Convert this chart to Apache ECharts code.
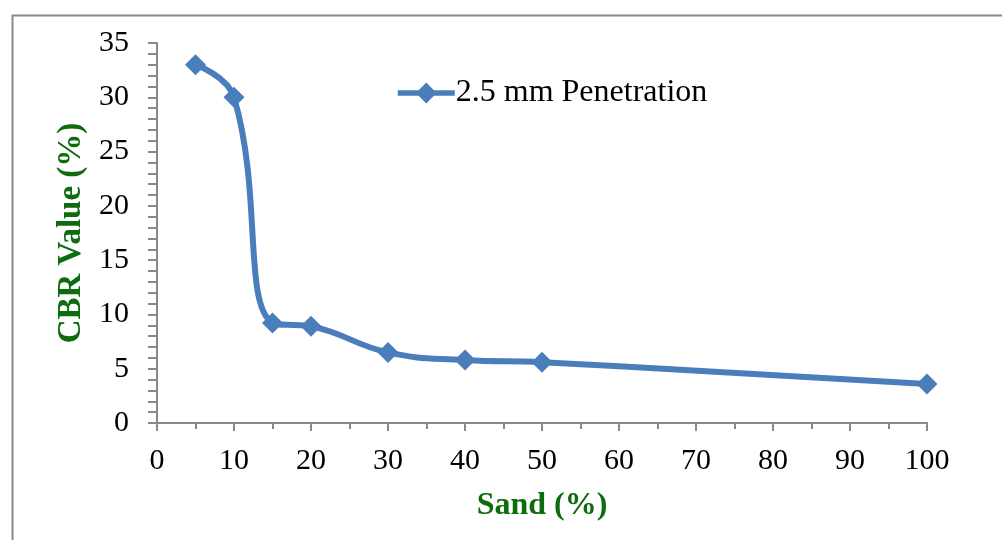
<!DOCTYPE html>
<html>
<head>
<meta charset="utf-8">
<script src="https://cdn.jsdelivr.net/npm/echarts@6/dist/echarts.min.js"></script>
<style>
  html, body { margin: 0; padding: 0; background: #fff; }
  #chart { width: 1002px; height: 540px; }
</style>
</head>
<body>
<div id="chart"></div>
<script>
// 数据：砂含量 (%) 与 CBR 值 (%)
const sandPercent = [5, 10, 15, 20, 30, 40, 50, 100]
const cbrValues = [33, 30, 9.2, 8.9, 6.5, 5.8, 5.6, 3.6]
const seriesName = '2.5 mm Penetration'

const axisGray = '#898989'
const titleGreen = '#0e6b0e'
const lineBlue = '#4a7ebb'
const serif = '"Liberation Serif", "Times New Roman", serif'

const chart = echarts.init(document.getElementById('chart'))

const option = {
  animation: false,
  graphic: [
    {
      type: 'rect',
      left: 10,
      top: 13,
      shape: { width: 1010, height: 560 },
      style: { fill: 'none', stroke: '#8a8a8a', lineWidth: 2 },
      silent: true
    }
  ],
  legend: {
    data: [seriesName],
    left: 390,
    top: 72,
    itemWidth: 57,
    itemHeight: 26,
    itemGap: 0,
    lineStyle: { width: 5.5 },
    textStyle: {
      fontFamily: serif,
      fontSize: 32,
      color: '#000',
      padding: [0, 0, 0, -4]
    }
  },
  grid: {
    left: 157,
    right: 75,
    top: 43,
    bottom: 117
  },
  xAxis: {
    type: 'value',
    min: 0,
    max: 100,
    interval: 10,
    name: 'Sand (%)',
    nameLocation: 'middle',
    nameGap: 67,
    nameTextStyle: {
      fontFamily: serif,
      fontSize: 32,
      fontWeight: 'bold',
      color: titleGreen
    },
    axisLine: { lineStyle: { color: axisGray, width: 2 } },
    axisTick: { show: true, length: 8, lineStyle: { color: axisGray, width: 2 } },
    minorTick: { show: true, splitNumber: 2, length: 6, lineStyle: { color: axisGray, width: 2 } },
    splitLine: { show: false },
    axisLabel: {
      fontFamily: serif,
      fontSize: 30,
      color: '#000',
      margin: 23
    }
  },
  yAxis: {
    type: 'value',
    min: 0,
    max: 35,
    interval: 5,
    name: 'CBR Value (%)',
    nameLocation: 'middle',
    nameGap: 63,
    nameTextStyle: {
      fontFamily: serif,
      fontSize: 33,
      fontWeight: 'bold',
      color: titleGreen
    },
    axisLine: { show: true, lineStyle: { color: axisGray, width: 2 } },
    axisTick: { show: true, length: 9, lineStyle: { color: axisGray, width: 2 } },
    minorTick: { show: true, splitNumber: 5, length: 9, lineStyle: { color: axisGray, width: 2 } },
    splitLine: { show: false },
    axisLabel: {
      fontFamily: serif,
      fontSize: 30,
      color: '#000',
      margin: 28
    }
  },
  series: [
    {
      name: seriesName,
      type: 'line',
      data: sandPercent.map((x, i) => [x, cbrValues[i]]),
      smooth: 0.45,
      symbol: 'diamond',
      symbolSize: 21,
      lineStyle: { color: lineBlue, width: 6 },
      itemStyle: { color: lineBlue }
    }
  ]
}

chart.setOption(option)
</script>
</body>
</html>
